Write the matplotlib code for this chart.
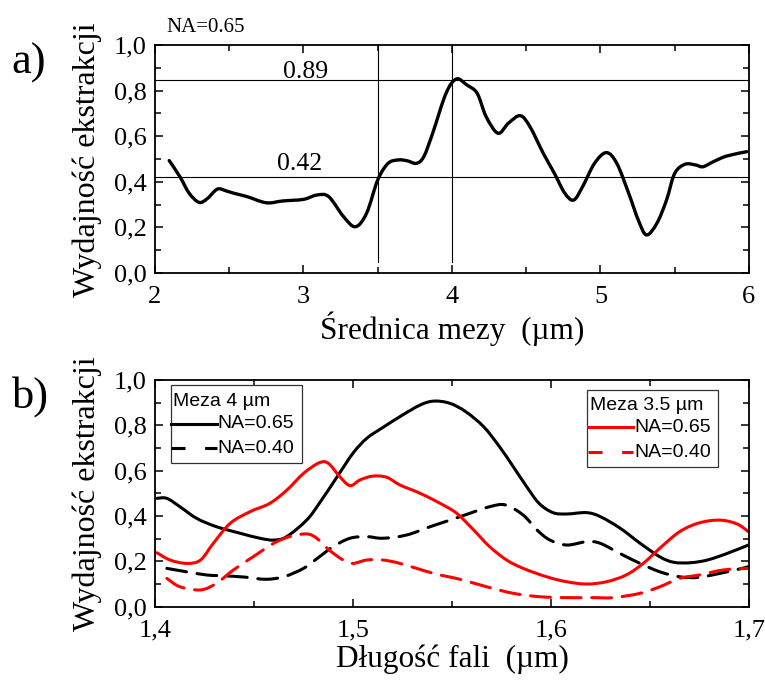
import numpy as np
import matplotlib
matplotlib.use("Agg")
import matplotlib.pyplot as plt
from matplotlib.ticker import MultipleLocator, FuncFormatter
from matplotlib.path import Path
from matplotlib.patches import PathPatch, Rectangle
from matplotlib.lines import Line2D

# ---- panel a: extraction efficiency vs. mesa diameter (NA = 0.65) ----
mesa_diam = [2.096, 2.17, 2.23, 2.296, 2.35, 2.42, 2.48, 2.53, 2.62, 2.75, 2.86,
             3.0, 3.09, 3.17, 3.27, 3.35, 3.425, 3.5, 3.57, 3.64, 3.70, 3.76,
             3.81, 3.87, 3.96, 4.03, 4.10, 4.17, 4.23, 4.31, 4.38, 4.46, 4.525,
             4.615, 4.69, 4.76, 4.82, 4.88, 4.96, 5.04, 5.11, 5.19, 5.255, 5.31,
             5.38, 5.445, 5.50, 5.57, 5.64, 5.69, 5.76, 5.85, 5.985]
eff_vs_diam = [0.493, 0.42, 0.35, 0.31, 0.325, 0.368, 0.36, 0.35, 0.335, 0.308,
               0.316, 0.323, 0.342, 0.335, 0.247, 0.203, 0.262, 0.408, 0.481,
               0.496, 0.492, 0.481, 0.51, 0.613, 0.788, 0.851, 0.825, 0.788,
               0.686, 0.613, 0.657, 0.690, 0.642, 0.525, 0.437, 0.35, 0.32,
               0.379, 0.481, 0.528, 0.481, 0.35, 0.232, 0.167, 0.218, 0.32,
               0.437, 0.477, 0.474, 0.466, 0.488, 0.513, 0.532]

ref_levels = [0.845, 0.42]
ref_level_labels = ["0.89", "0.42"]
ref_diams = [3.5, 4.0]

# ---- panel b: extraction efficiency vs. wavelength ----
wl_black = [1.401, 1.406, 1.4126, 1.421, 1.431, 1.443, 1.453, 1.46, 1.4665,
            1.4766, 1.483, 1.492, 1.50, 1.507, 1.515, 1.524, 1.534, 1.541,
            1.549, 1.557, 1.566, 1.574, 1.581, 1.5877, 1.594, 1.601, 1.608,
            1.618, 1.625, 1.635, 1.645, 1.655, 1.662, 1.6705, 1.679, 1.689,
            1.6997]
mesa4_na065 = [0.478, 0.478, 0.441, 0.39, 0.353, 0.324, 0.302, 0.294, 0.309,
               0.382, 0.456, 0.573, 0.677, 0.743, 0.79, 0.84, 0.89, 0.907,
               0.897, 0.86, 0.794, 0.706, 0.617, 0.53, 0.456, 0.415, 0.409,
               0.415, 0.397, 0.346, 0.28, 0.22, 0.196, 0.194, 0.206, 0.235,
               0.272]

wl_black_d = [1.406, 1.414, 1.426, 1.436, 1.446, 1.456, 1.465, 1.475, 1.483,
              1.49, 1.4985, 1.507, 1.515, 1.527, 1.539, 1.549, 1.559, 1.569,
              1.577, 1.586, 1.593, 1.5995, 1.608, 1.618, 1.6248, 1.6348, 1.645,
              1.655, 1.665, 1.675, 1.689, 1.6997]
mesa4_na040 = [0.169, 0.157, 0.14, 0.136, 0.13, 0.121, 0.132, 0.169, 0.22,
               0.265, 0.302, 0.309, 0.302, 0.316, 0.353, 0.382, 0.412, 0.441,
               0.449, 0.404, 0.338, 0.294, 0.272, 0.287, 0.28, 0.235, 0.191,
               0.154, 0.132, 0.13, 0.154, 0.176]

wl_red = [1.401, 1.4076, 1.416, 1.423, 1.4295, 1.438, 1.448, 1.458, 1.4667,
          1.475, 1.483, 1.4876, 1.4934, 1.4985, 1.5035, 1.510, 1.517, 1.5237,
          1.534, 1.544, 1.5524, 1.561, 1.569, 1.5776, 1.586, 1.5978, 1.608,
          1.618, 1.628, 1.638, 1.6466, 1.655, 1.665, 1.675, 1.6854, 1.694,
          1.6997]
mesa35_na065 = [0.238, 0.206, 0.191, 0.206, 0.28, 0.368, 0.419, 0.456, 0.515,
                0.588, 0.635, 0.632, 0.573, 0.534, 0.559, 0.576, 0.571, 0.537,
                0.50, 0.456, 0.412, 0.338, 0.265, 0.206, 0.169, 0.132, 0.11,
                0.10, 0.11, 0.14, 0.191, 0.258, 0.331, 0.37, 0.382, 0.365,
                0.331]

wl_red_d = [1.406, 1.4126, 1.423, 1.431, 1.4396, 1.4497, 1.46, 1.468, 1.4766,
            1.4817, 1.488, 1.495, 1.5, 1.507, 1.515, 1.5237, 1.5407, 1.554,
            1.5675, 1.581, 1.5944, 1.608, 1.6214, 1.6315, 1.645, 1.655, 1.665,
            1.675, 1.687, 1.6997]
mesa35_na040 = [0.125, 0.088, 0.074, 0.103, 0.162, 0.221, 0.28, 0.309, 0.321,
                0.302, 0.25, 0.206, 0.191, 0.206, 0.206, 0.191, 0.147, 0.121,
                0.088, 0.059, 0.044, 0.04, 0.04, 0.04, 0.059, 0.088, 0.125,
                0.14, 0.162, 0.169]

legend_titles = ["Meza 4 µm", "Meza 3.5 µm"]
legend_labels = ["NA=0.65", "NA=0.40"]

serif = "Liberation Serif"
sans = "Liberation Sans"
plt.rcParams["font.family"] = [serif, "DejaVu Serif"]

RED = "#ff0000"

fig = plt.figure(figsize=(7.65, 6.82), dpi=100)
ax_a = fig.add_axes([0.2026, 0.5997, 0.7764, 0.3343])
ax_b = fig.add_axes([0.2026, 0.1104, 0.7764, 0.3324])

comma = FuncFormatter(lambda v, p: f"{v:.1f}".replace(".", ","))


def smooth_curve(ax, x, y, **kw):
    """Draw a smooth line through (x, y) as a Catmull-Rom style Bezier path."""
    x = np.asarray(x, float)
    y = np.asarray(y, float)
    n = len(x)
    verts = [(x[0], y[0])]
    codes = [Path.MOVETO]
    for i in range(n - 1):
        p0 = np.array([x[max(i - 1, 0)], y[max(i - 1, 0)]])
        p1 = np.array([x[i], y[i]])
        p2 = np.array([x[i + 1], y[i + 1]])
        p3 = np.array([x[min(i + 2, n - 1)], y[min(i + 2, n - 1)]])
        c1 = p1 + (p2 - p0) / 6.0
        c2 = p2 - (p3 - p1) / 6.0
        verts += [tuple(c1), tuple(c2), tuple(p2)]
        codes += [Path.CURVE4] * 3
    patch = PathPatch(Path(verts, codes), fill=False, capstyle="round",
                      joinstyle="round", **kw)
    ax.add_patch(patch)
    return patch


def style_axes(ax):
    for s in ax.spines.values():
        s.set_linewidth(1.3)
    ax.tick_params(which="both", direction="in", top=True, right=True,
                   labeltop=False, labelright=False, width=1.1,
                   labelsize=19)
    ax.tick_params(which="major", length=6)
    ax.tick_params(which="minor", length=4)
    ax.tick_params(axis="x", pad=9)
    ax.tick_params(axis="y", pad=6)
    ax.yaxis.set_major_locator(MultipleLocator(0.2))
    ax.yaxis.set_minor_locator(MultipleLocator(0.1))
    ax.yaxis.set_major_formatter(comma)
    ax.set_ylim(0, 1.0)


def draw_legend(ax, frame, title, title_pos, rows, color, dash):
    x0, y0, x1, y1 = frame
    ax.add_patch(Rectangle((x0, y0), x1 - x0, y1 - y0, transform=ax.transAxes,
                           facecolor="white", edgecolor="#333333", lw=0.9,
                           zorder=5))
    ax.text(title_pos[0], title_pos[1], title, transform=ax.transAxes,
            family=sans, fontsize=14, ha="left", va="center", zorder=6)
    styles = ["-", (0, dash)]
    for (hx0, hx1, hy, tx), lab, ls in zip(rows, legend_labels, styles):
        ax.add_line(Line2D([hx0, hx1], [hy, hy], transform=ax.transAxes,
                           color=color, lw=2.2, linestyle=ls, zorder=6))
        ax.text(tx, hy, lab, transform=ax.transAxes, family=sans, fontsize=14,
                ha="left", va="center", zorder=6)


# panel a
style_axes(ax_a)
ax_a.set_xlim(2, 6)
ax_a.xaxis.set_major_locator(MultipleLocator(1))
ax_a.xaxis.set_minor_locator(MultipleLocator(0.5))
ax_a.xaxis.set_major_formatter(FuncFormatter(lambda v, p: f"{v:.0f}"))
for lvl in ref_levels:
    ax_a.axhline(lvl, color="black", lw=0.8)
for d in ref_diams:
    ax_a.plot([d, d], [0.05, 1.0], color="black", lw=0.8)
smooth_curve(ax_a, mesa_diam, eff_vs_diam, edgecolor="black", lw=2.4)
ax_a.text(3.017, ref_levels[0] + 0.012, ref_level_labels[0], ha="center",
          va="baseline", fontsize=18.5)
ax_a.text(2.976, ref_levels[1] + 0.032, ref_level_labels[1], ha="center",
          va="baseline", fontsize=18.5)
ax_a.set_xlabel("Średnica mezy  (µm)", fontsize=22.5)
ax_a.set_ylabel("Wydajność ekstrakcji", fontsize=23)
ax_a.xaxis.set_label_coords(0.5, -0.17)
ax_a.yaxis.set_label_coords(-0.09, 0.495)
fig.text(0.218, 0.953, "NA=0.65", fontsize=15, ha="left", va="baseline")
fig.text(0.015, 0.892, "a)", fontsize=32, ha="left", va="baseline")

# panel b
style_axes(ax_b)
ax_b.set_xlim(1.4, 1.7)
ax_b.xaxis.set_major_locator(MultipleLocator(0.1))
ax_b.xaxis.set_minor_locator(MultipleLocator(0.05))
ax_b.xaxis.set_major_formatter(comma)
dash = (6.5, 3.5)
smooth_curve(ax_b, wl_black, mesa4_na065, edgecolor="black", lw=2.2)
smooth_curve(ax_b, wl_black_d, mesa4_na040, edgecolor="black", lw=2.2,
             linestyle=(0, dash))
smooth_curve(ax_b, wl_red, mesa35_na065, edgecolor=RED, lw=2.2)
smooth_curve(ax_b, wl_red_d, mesa35_na040, edgecolor=RED, lw=2.2,
             linestyle=(0, dash))
ax_b.set_xlabel("Długość fali  (µm)", fontsize=22.5)
ax_b.set_ylabel("Wydajność ekstrakcji", fontsize=23)
ax_b.xaxis.set_label_coords(0.5, -0.165)
ax_b.yaxis.set_label_coords(-0.09, 0.5)
fig.text(0.015, 0.402, "b)", fontsize=32, ha="left", va="baseline")

legend_dash = (4.6, 6.4)
draw_legend(ax_b, (0.0264, 0.635, 0.2470, 0.978), legend_titles[0],
            (0.0303, 0.903),
            [(0.027, 0.1044, 0.806, 0.1055), (0.027, 0.1044, 0.700, 0.1055)],
            "black", legend_dash)
draw_legend(ax_b, (0.7278, 0.6176, 0.9474, 0.956), legend_titles[1],
            (0.732, 0.887),
            [(0.7295, 0.805, 0.791, 0.8065), (0.7295, 0.805, 0.681, 0.8065)],
            RED, legend_dash)

fig.savefig("out.png", dpi=100)
